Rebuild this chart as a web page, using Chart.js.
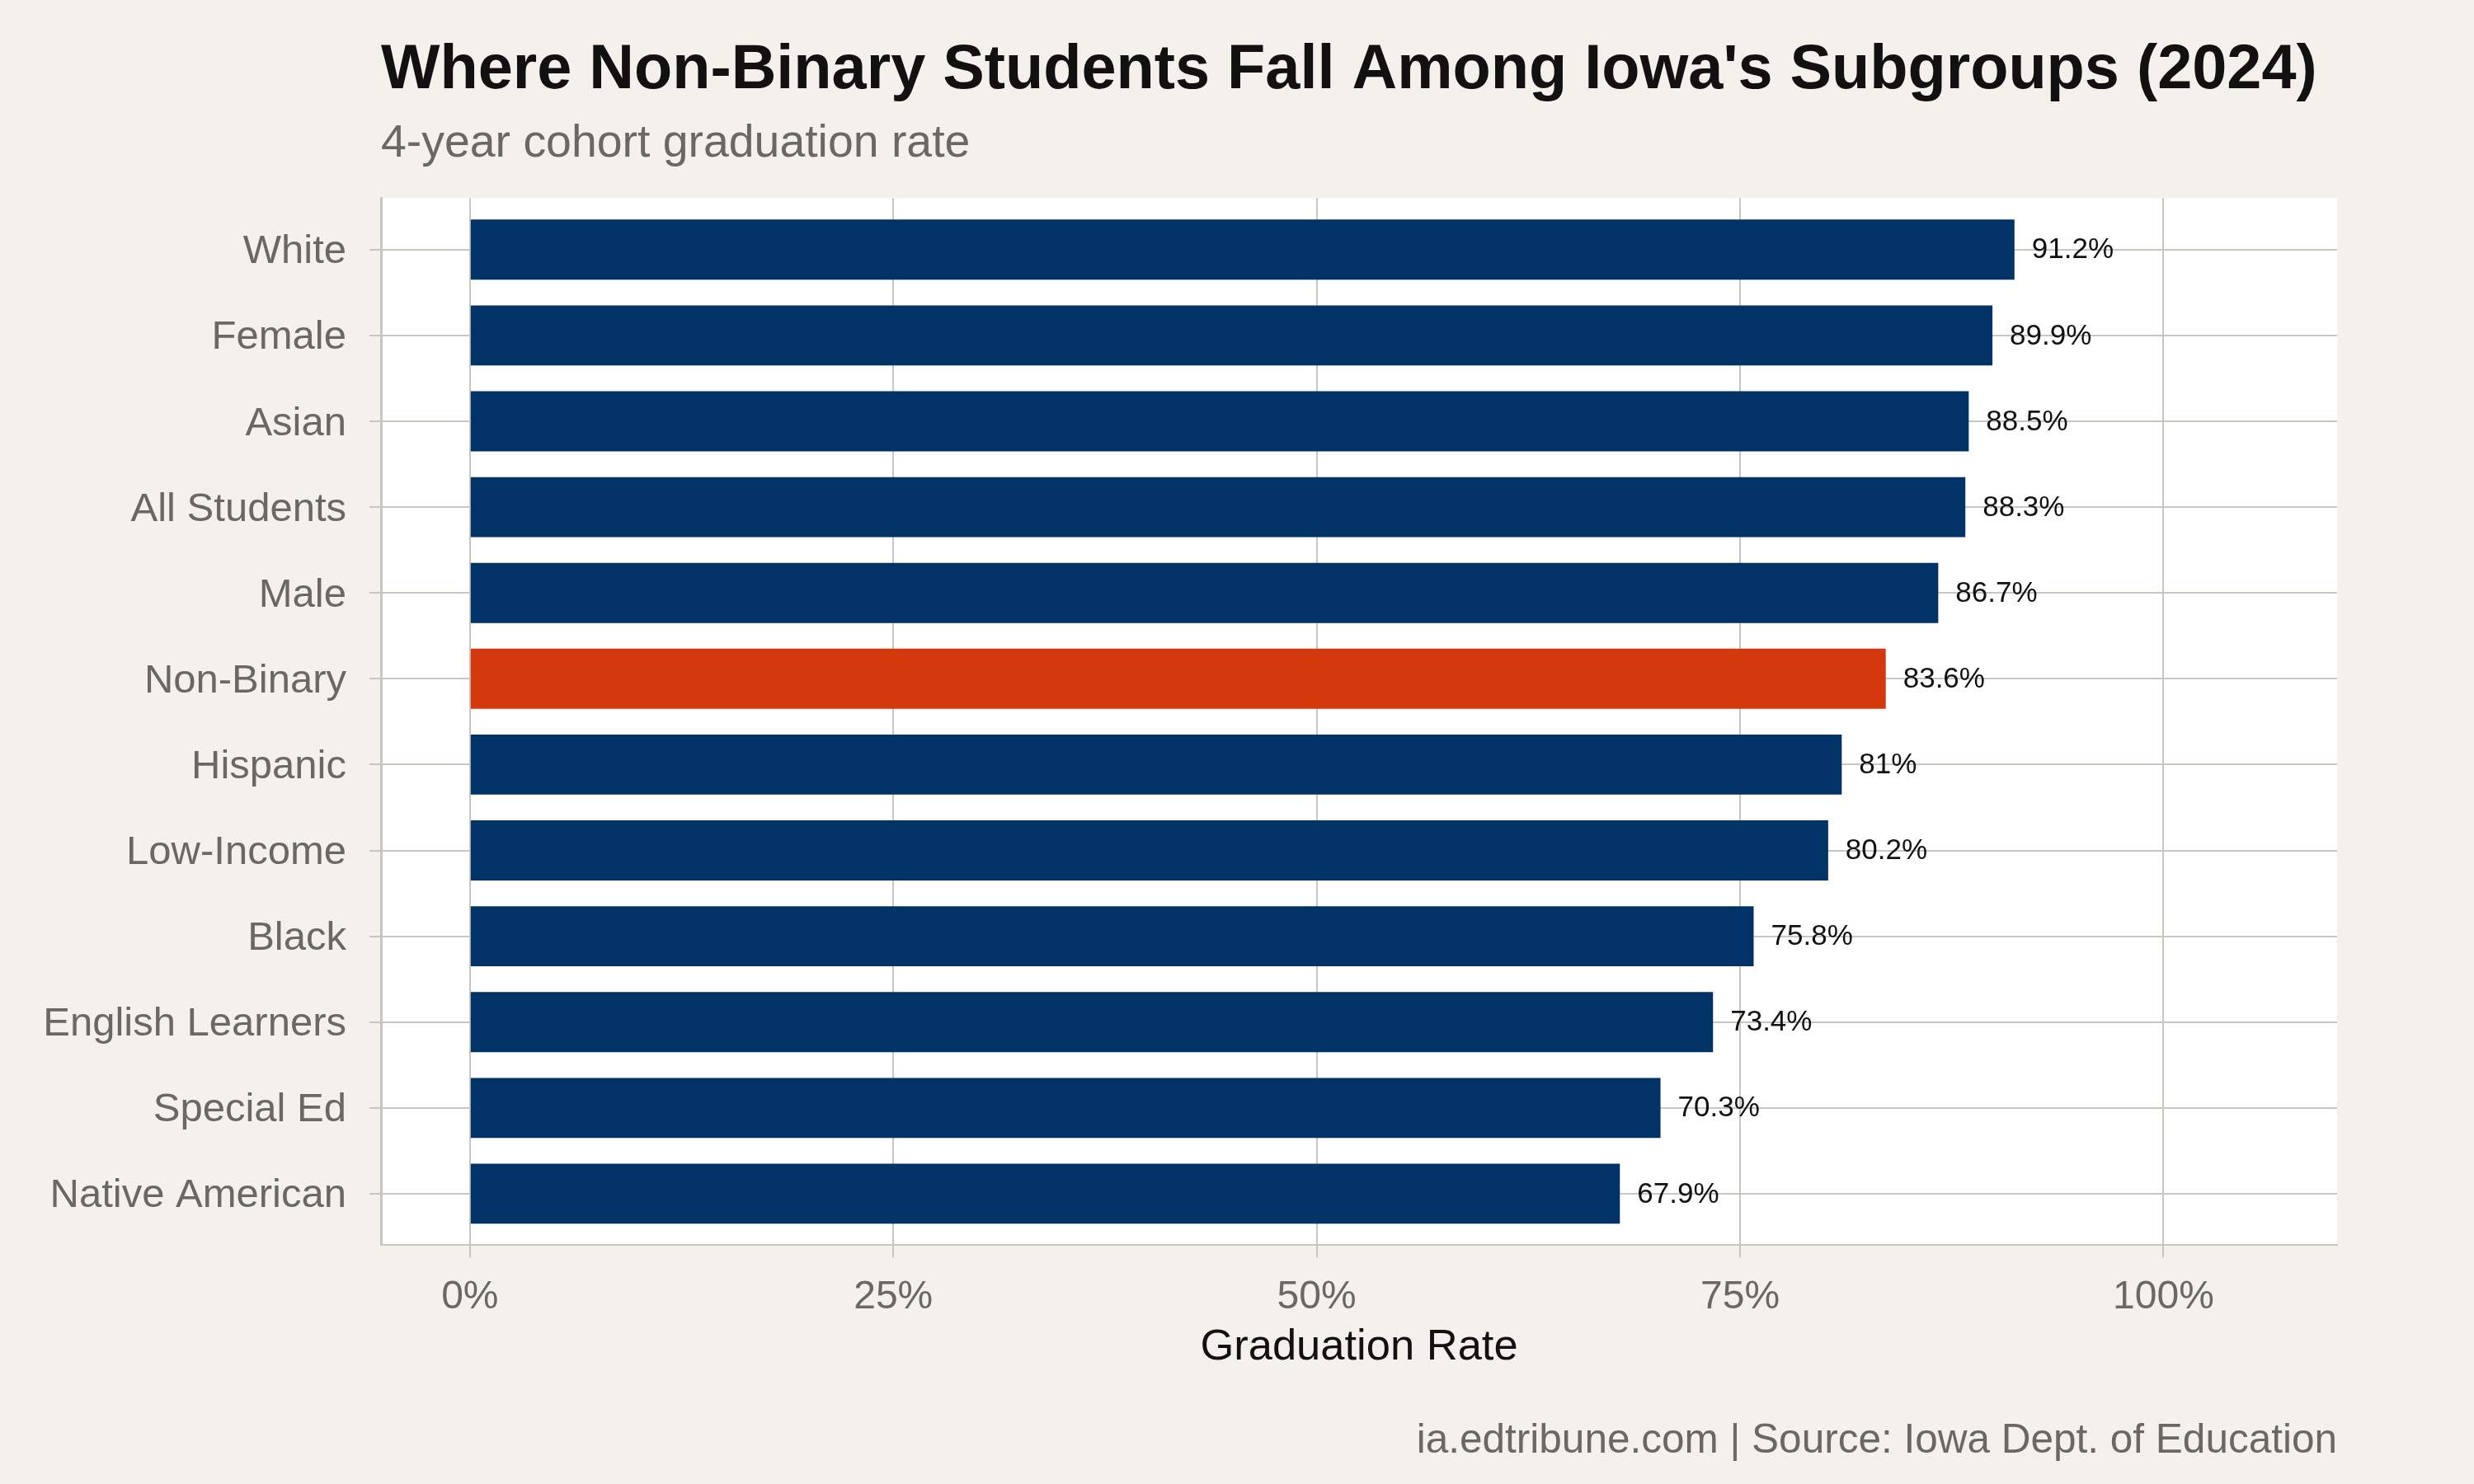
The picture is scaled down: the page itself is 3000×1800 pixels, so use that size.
<!DOCTYPE html>
<html>
<head>
<meta charset="utf-8">
<script src="https://cdn.jsdelivr.net/npm/chart.js@4/dist/chart.umd.min.js"></script>
<style>
  html, body { margin: 0; padding: 0; background: #f4f1ec; }
  #wrap { width: 3000px; height: 1800px; }
  canvas { display: block; background: #f4f1ec; }
</style>
</head>
<body>
<div id="wrap"><canvas id="c" width="3000" height="1800"></canvas></div>
<script>
// ---- data ----
const categories = ["White", "Female", "Asian", "All Students", "Male", "Non-Binary",
  "Hispanic", "Low-Income", "Black", "English Learners", "Special Ed", "Native American"];
const gradRates = [91.2, 89.9, 88.5, 88.3, 86.7, 83.6, 81, 80.2, 75.8, 73.4, 70.3, 67.9];
const highlight = "Non-Binary";
const xTickValues = [0, 25, 50, 75, 100];
const titleText = "Where Non-Binary Students Fall Among Iowa's Subgroups (2024)";
const subtitleText = "4-year cohort graduation rate";
const xAxisTitle = "Graduation Rate";
const footerText = "ia.edtribune.com | Source: Iowa Dept. of Education";

// ---- style ----
const FONT = '"Liberation Sans", Arial, Helvetica, sans-serif';
const NAVY = '#013366';
const ORANGE = '#d4380d';
const GRID = '#cbc6bd';
const TEXT_GRAY = '#6b6761';

const points = gradRates.map((v, i) => ({ x: v, y: i }));

const plotBg = {
  id: 'plotBg',
  beforeDraw(chart) {
    const { ctx, chartArea: a } = chart;
    ctx.save();
    ctx.fillStyle = '#ffffff';
    ctx.fillRect(a.left, a.top, a.right - a.left, a.bottom - a.top);
    ctx.restore();
  }
};

const valueLabels = {
  id: 'valueLabels',
  afterDatasetsDraw(chart) {
    const { ctx } = chart;
    const meta = chart.getDatasetMeta(0);
    ctx.save();
    ctx.font = '35px ' + FONT;
    ctx.fillStyle = '#111111';
    ctx.textAlign = 'left';
    ctx.textBaseline = 'middle';
    meta.data.forEach((bar, i) => {
      ctx.fillText(gradRates[i] + '%', bar.x + 21, bar.y + 1);
    });
    ctx.restore();
  }
};

const footer = {
  id: 'footer',
  afterDraw(chart) {
    const { ctx, chartArea: a } = chart;
    ctx.save();
    ctx.font = '49.5px ' + FONT;
    ctx.fillStyle = TEXT_GRAY;
    ctx.textAlign = 'right';
    ctx.textBaseline = 'alphabetic';
    ctx.fillText(footerText, a.right, chart.height - 38);
    ctx.restore();
  }
};

new Chart(document.getElementById('c'), {
  type: 'bar',
  data: {
    datasets: [{
      data: points,
      backgroundColor: categories.map(c => c === highlight ? ORANGE : NAVY),
      borderWidth: 0,
      categoryPercentage: 1.0,
      barPercentage: 0.7
    }]
  },
  options: {
    indexAxis: 'y',
    responsive: false,
    devicePixelRatio: 1,
    animation: false,
    layout: { padding: { left: 0, right: 166, top: 0, bottom: 134 } },
    plugins: {
      legend: { display: false },
      tooltip: { enabled: false },
      title: {
        display: true,
        text: titleText,
        align: 'start',
        fullSize: false,
        color: '#111111',
        font: { family: FONT, size: 75.7, weight: 'bold', lineHeight: 1.2 },
        padding: { top: 41, bottom: 0 }
      },
      subtitle: {
        display: true,
        text: subtitleText,
        align: 'start',
        fullSize: false,
        color: TEXT_GRAY,
        font: { family: FONT, size: 55.4, weight: 'normal', lineHeight: 1.2 },
        padding: { top: 10, bottom: 32 }
      }
    },
    scales: {
      x: {
        type: 'linear',
        min: -5.25,
        max: 110.25,
        afterBuildTicks(scale) { scale.ticks = xTickValues.map(v => ({ value: v })); },
        ticks: {
          callback: v => v + '%',
          color: TEXT_GRAY,
          font: { family: FONT, size: 48, lineHeight: 1.2 },
          padding: 20,
          autoSkip: false,
          maxRotation: 0
        },
        grid: { color: GRID, lineWidth: 2, tickLength: 15, drawTicks: true, tickColor: GRID },
        border: { display: true, color: GRID, width: 2 },
        title: {
          display: true,
          text: xAxisTitle,
          color: '#111111',
          font: { family: FONT, size: 52.5, lineHeight: 1.2 },
          padding: { top: -20, bottom: 0 }
        }
      },
      y: {
        type: 'linear',
        reverse: true,
        offset: false,
        min: -0.6,
        max: 11.6,
        afterBuildTicks(scale) { scale.ticks = categories.map((c, i) => ({ value: i })); },
        afterFit(scale) { scale.width = 462; },
        ticks: {
          callback: v => categories[v],
          color: TEXT_GRAY,
          font: { family: FONT, size: 49, lineHeight: 1.2 },
          padding: 28,
          labelOffset: 3,
          autoSkip: false
        },
        grid: { offset: false, color: GRID, lineWidth: 2, tickLength: 14, drawTicks: true, tickColor: GRID },
        border: { display: true, color: GRID, width: 3 }
      }
    }
  },
  plugins: [plotBg, valueLabels, footer]
});
</script>
</body>
</html>
